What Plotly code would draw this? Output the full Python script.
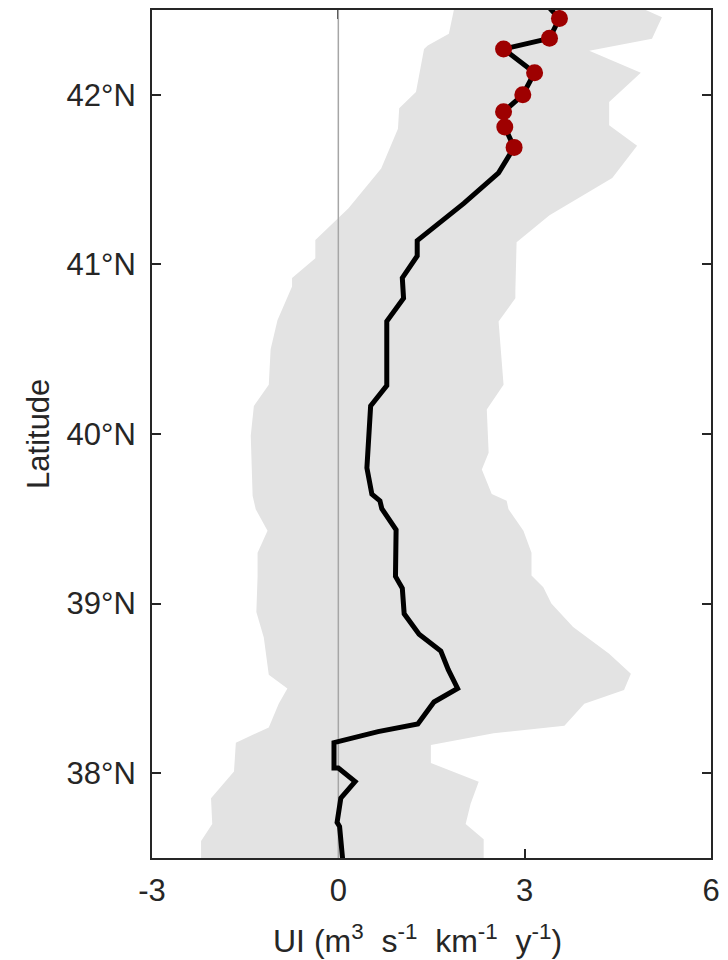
import plotly.graph_objects as go

# Mean upwelling index profile along the coast (latitude, UI)
ui_lat = [42.52, 42.45, 42.333, 42.27, 42.13, 42.00, 41.90, 41.81, 41.69, 41.54, 41.36,
          41.14, 41.05, 40.92, 40.80, 40.665, 40.285, 40.165, 39.80, 39.645, 39.606,
          39.56, 39.435, 39.16, 39.09, 38.94, 38.82, 38.72, 38.61, 38.50, 38.42,
          38.37, 38.29, 38.245, 38.18, 38.18, 38.03, 38.03, 37.95, 37.853, 37.71,
          37.686, 37.45]
ui_val = [3.38, 3.56, 3.40, 2.66, 3.16, 2.97, 2.66, 2.68, 2.83, 2.58, 2.02,
          1.27, 1.27, 1.03, 1.05, 0.78, 0.78, 0.52, 0.46, 0.54, 0.67,
          0.70, 0.93, 0.92, 1.03, 1.06, 1.30, 1.65, 1.77, 1.92, 1.54,
          1.44, 1.28, 0.64, 0.0, -0.07, -0.07, 0.0, 0.27, 0.04, -0.02,
          0.02, 0.08]

# Highlighted sites (red markers)
site_lat = [42.45, 42.333, 42.27, 42.13, 42.00, 41.90, 41.81, 41.69]
site_val = [3.56, 3.40, 2.66, 3.16, 2.97, 2.66, 2.68, 2.83]

# Variability envelope: lower edge (top to bottom)
low_lat = [42.55, 42.50, 42.36, 42.29, 42.27, 42.016, 41.92, 41.80, 41.565, 41.33,
           41.144, 41.036, 40.92, 40.87, 40.67, 40.50, 40.29, 40.165, 39.99, 39.636,
           39.557, 39.43, 39.30, 39.165, 38.95, 38.80, 38.58, 38.50, 38.41, 38.27,
           38.18, 38.01, 37.853, 37.70, 37.60, 37.45]
low_val = [1.90, 1.86, 1.78, 1.44, 1.38, 1.25, 0.98, 0.96, 0.69, 0.16,
           -0.37, -0.37, -0.745, -0.745, -0.98, -1.09, -1.12, -1.36, -1.41, -1.38,
           -1.33, -1.14, -1.30, -1.30, -1.32, -1.20, -1.12, -0.82, -0.96, -1.12,
           -1.65, -1.68, -2.05, -2.03, -2.21, -2.21]

# Variability envelope: upper edge (top to bottom)
up_lat = [42.55, 42.50, 42.457, 42.33, 42.26, 42.13, 41.957, 41.82, 41.70, 41.51,
          41.29, 41.13, 40.84, 40.80, 40.664, 40.29, 40.145, 39.89, 39.79, 39.646,
          39.606, 39.557, 39.43, 39.30, 39.165, 39.097, 39.00, 38.862, 38.705, 38.587,
          38.49, 38.41, 38.28, 38.235, 38.166, 38.06, 37.95, 37.82, 37.70, 37.61, 37.45]
up_val = [4.90, 4.95, 5.21, 5.05, 4.04, 4.87, 4.36, 4.36, 4.81, 4.41,
          3.40, 2.87, 2.85, 2.85, 2.58, 2.66, 2.39, 2.42, 2.31, 2.47,
          2.71, 2.74, 2.98, 3.11, 3.11, 3.30, 3.43, 3.78, 4.36, 4.71,
          4.60, 3.96, 3.64, 2.50, 1.49, 1.49, 2.26, 2.13, 2.05, 2.34, 2.34]

x_ticks = [-3, 0, 3, 6]
y_ticks = [38, 39, 40, 41, 42]
y_ticktext = ["38°N", "39°N", "40°N", "41°N", "42°N"]

axis_color = "#262626"
font_family = "Liberation Sans, Arial, sans-serif"
fsize = 31

fig = go.Figure()

# shaded envelope as a closed polygon
fig.add_trace(go.Scatter(
    x=low_val + up_val[::-1],
    y=low_lat + up_lat[::-1],
    mode="lines", fill="toself",
    fillcolor="#e3e3e3", line=dict(width=0, color="#e3e3e3"),
    hoverinfo="skip", showlegend=False,
))

# zero reference line
fig.add_trace(go.Scatter(
    x=[0, 0], y=[37.5, 42.5], mode="lines",
    line=dict(color="#a6a6a6", width=1.5),
    hoverinfo="skip", showlegend=False,
))

# mean profile
fig.add_trace(go.Scatter(
    x=ui_val, y=ui_lat, mode="lines",
    line=dict(color="black", width=5),
    showlegend=False,
))

# highlighted sites
fig.add_trace(go.Scatter(
    x=site_val, y=site_lat, mode="markers",
    marker=dict(color="#9e0000", size=17, line=dict(width=0)),
    showlegend=False,
))

x_title = ("UI (m<sup>3</sup>&nbsp; s<sup>-1</sup>&nbsp; km<sup>-1</sup>&nbsp; "
           "y<sup>-1</sup>)")

fig.update_layout(
    width=728, height=960,
    margin=dict(l=152, r=12, t=8, b=102),
    paper_bgcolor="white", plot_bgcolor="white",
    font=dict(family=font_family, size=fsize, color=axis_color),
    xaxis=dict(
        range=[-3, 6], tickvals=x_ticks, ticktext=[str(v) for v in x_ticks],
        showgrid=False, zeroline=False,
        showline=True, linecolor=axis_color, linewidth=2, mirror="allticks",
        ticks="inside", ticklen=9, tickwidth=2, tickcolor=axis_color,
        layer="below traces", ticklabelstandoff=4,
        tickfont=dict(size=fsize, color=axis_color),
    ),
    yaxis=dict(
        range=[37.5, 42.5], tickvals=y_ticks, ticktext=y_ticktext,
        showgrid=False, zeroline=False,
        showline=True, linecolor=axis_color, linewidth=2, mirror="allticks",
        ticks="inside", ticklen=9, tickwidth=2, tickcolor=axis_color,
        layer="below traces", ticklabelstandoff=8,
        tickfont=dict(size=fsize, color=axis_color),
    ),
    annotations=[
        dict(text="Latitude", xref="paper", yref="paper",
             x=-0.204, y=0.5, xanchor="center", yanchor="middle",
             textangle=-90, showarrow=False,
             font=dict(size=fsize, color=axis_color)),
        dict(text=x_title,
             xref="paper", yref="paper",
             x=0.475, y=-0.096, xanchor="center", yanchor="middle",
             showarrow=False, font=dict(size=32, color=axis_color)),
    ],
)

fig.write_html("out.html")
